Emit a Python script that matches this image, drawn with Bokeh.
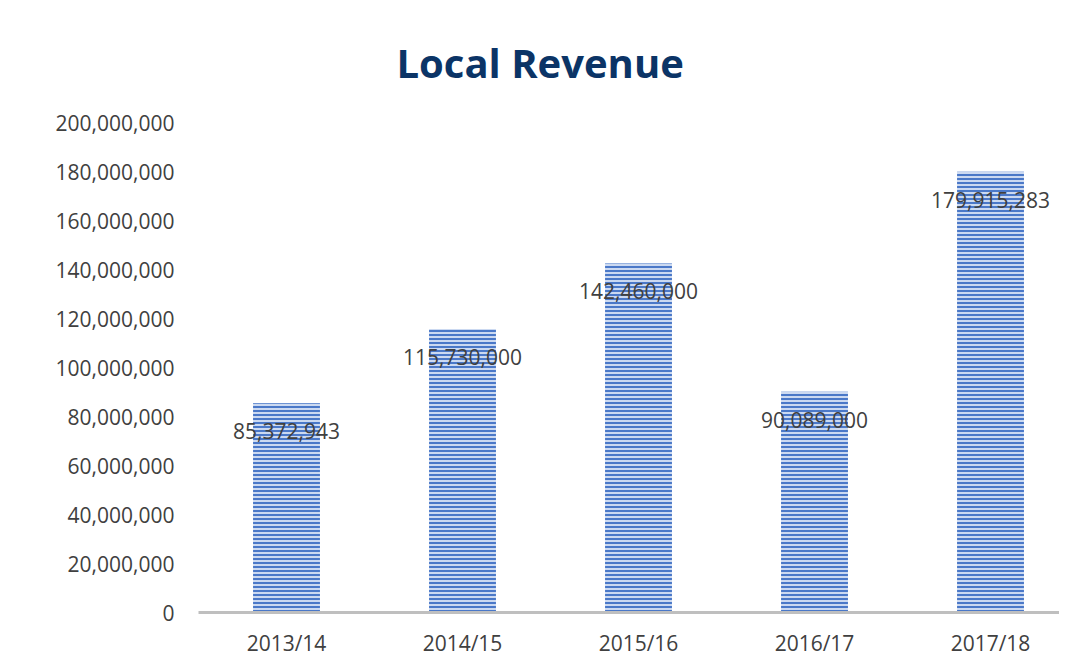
from bokeh.plotting import figure
from bokeh.models import Range1d, ColumnDataSource, NumeralTickFormatter, FixedTicker, Title
from bokeh.core.properties import value
from bokeh.embed import file_html
from bokeh.resources import INLINE

categories = ["2013/14", "2014/15", "2015/16", "2016/17", "2017/18"]
revenue = [85372943, 115730000, 142460000, 90089000, 179915283]
y_ticks = [0, 20000000, 40000000, 60000000, 80000000, 100000000,
           120000000, 140000000, 160000000, 180000000, 200000000]

positions = list(range(len(categories)))
labels = [f"{v:,}" for v in revenue]
src = ColumnDataSource(dict(x=positions, top=revenue, label=labels))

FONT = "Open Sans"
TXT = "#404040"

p = figure(width=1059, height=659, output_backend="svg", toolbar_location=None,
           x_range=Range1d(-0.5, 4.392), y_range=Range1d(0, 204900000),
           min_border_left=198, min_border_right=0, min_border_bottom=30,
           min_border_top=110, background_fill_color="white",
           border_fill_color="white", outline_line_color=None)

t = Title(text="Local Revenue", align="left", offset=198, standoff=42,
          text_font=FONT, text_font_size="40px", text_font_style="bold",
          text_color="#0b3466")
p.add_layout(t, "above")

p.vbar(x="x", top="top", width=0.38, bottom=0, source=src,
       fill_color="#cbd9f1", line_color=None,
       hatch_pattern="horizontal_line", hatch_color="#4a78c8",
       hatch_scale=4, hatch_weight=2)

p.text(x="x", y="top", text="label", source=src, y_offset=28,
       text_align="center", text_baseline="middle",
       text_font=value(FONT), text_font_size="21px", text_color=TXT)

p.xgrid.visible = False
p.ygrid.visible = False

p.yaxis.ticker = FixedTicker(ticks=y_ticks)
p.yaxis.formatter = NumeralTickFormatter(format="0,0")
p.yaxis.axis_line_color = None
p.yaxis.major_tick_line_color = None
p.yaxis.minor_tick_line_color = None
p.yaxis.major_label_standoff = 18
p.yaxis.major_label_text_font = FONT
p.yaxis.major_label_text_font_size = "21px"
p.yaxis.major_label_text_color = TXT

p.xaxis.ticker = FixedTicker(ticks=positions)
p.xaxis.major_label_overrides = {i: c for i, c in zip(positions, categories)}
p.xaxis.axis_line_color = "#bfbfbf"
p.xaxis.axis_line_width = 3
p.xaxis.major_tick_line_color = None
p.xaxis.minor_tick_line_color = None
p.xaxis.major_label_standoff = 10
p.xaxis.major_label_text_font = FONT
p.xaxis.major_label_text_font_size = "21px"
p.xaxis.major_label_text_color = TXT

open("out.html", "w").write(file_html(p, INLINE))
